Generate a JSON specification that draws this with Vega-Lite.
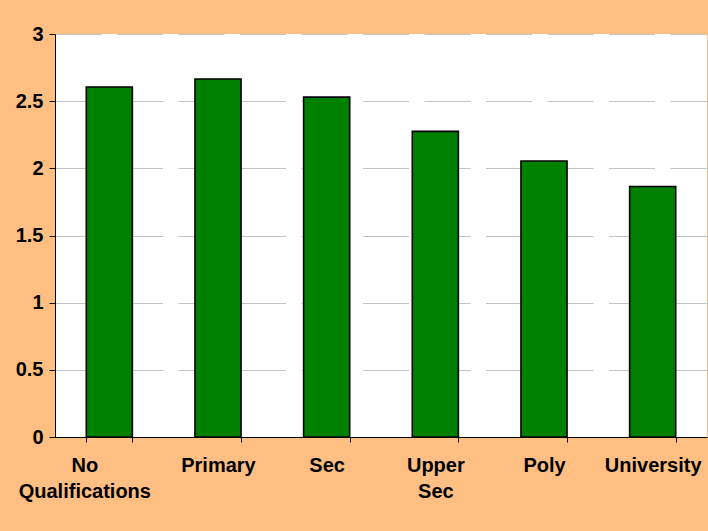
{
  "$schema": "https://vega.github.io/schema/vega-lite/v6.json",
  "width": 652,
  "height": 403,
  "autosize": {"type": "none"},
  "padding": {"left": 55, "top": 34, "right": 1, "bottom": 94},
  "background": "#ffbf82",
  "data": {
    "values": [
      {"level": "No Qualifications", "value": 2.605},
      {"level": "Primary", "value": 2.665},
      {"level": "Sec", "value": 2.53},
      {"level": "Upper Sec", "value": 2.275},
      {"level": "Poly", "value": 2.055},
      {"level": "University", "value": 1.865}
    ]
  },
  "mark": {"type": "bar", "fill": "#008000", "stroke": "#000000", "strokeWidth": 1.6},
  "encoding": {
    "x": {
      "field": "level",
      "type": "nominal",
      "sort": null,
      "title": null,
      "scale": {"paddingInner": 0.576, "paddingOuter": 0.288},
      "axis": {
        "labelAngle": 0,
        "tickBand": "extent",
        "domainColor": "#000000",
        "domainWidth": 1,
        "tickColor": "#000000",
        "tickSize": 5,
        "labelFont": "Liberation Sans",
        "labelFontWeight": "bold",
        "labelFontSize": 20,
        "labelColor": "#000000",
        "labelPadding": 13,
        "labelLineHeight": 26,
        "labelBaseline": "top",
        "labelOffset": {"condition": {"test": "datum.value == 'No Qualifications'", "value": -25}, "value": 0},
        "labelExpr": "datum.label == 'No Qualifications' ? ['No', 'Qualifications'] : datum.label == 'Upper Sec' ? ['Upper', 'Sec'] : datum.label"
      }
    },
    "y": {
      "field": "value",
      "type": "quantitative",
      "title": null,
      "scale": {"domain": [0, 3], "nice": false},
      "axis": {
        "values": [0, 0.5, 1, 1.5, 2, 2.5, 3],
        "format": ".1~f",
        "grid": true,
        "gridColor": "#c4c4c4",
        "gridDash": [46, 15.5],
        "gridWidth": 1,
        "domainColor": "#000000",
        "domainWidth": 1,
        "tickColor": "#000000",
        "tickSize": 6,
        "labelFont": "Liberation Sans",
        "labelFontWeight": "bold",
        "labelFontSize": 20,
        "labelColor": "#000000",
        "labelPadding": 6
      }
    }
  },
  "config": {
    "view": {"fill": "#ffffff", "stroke": null}
  }
}
